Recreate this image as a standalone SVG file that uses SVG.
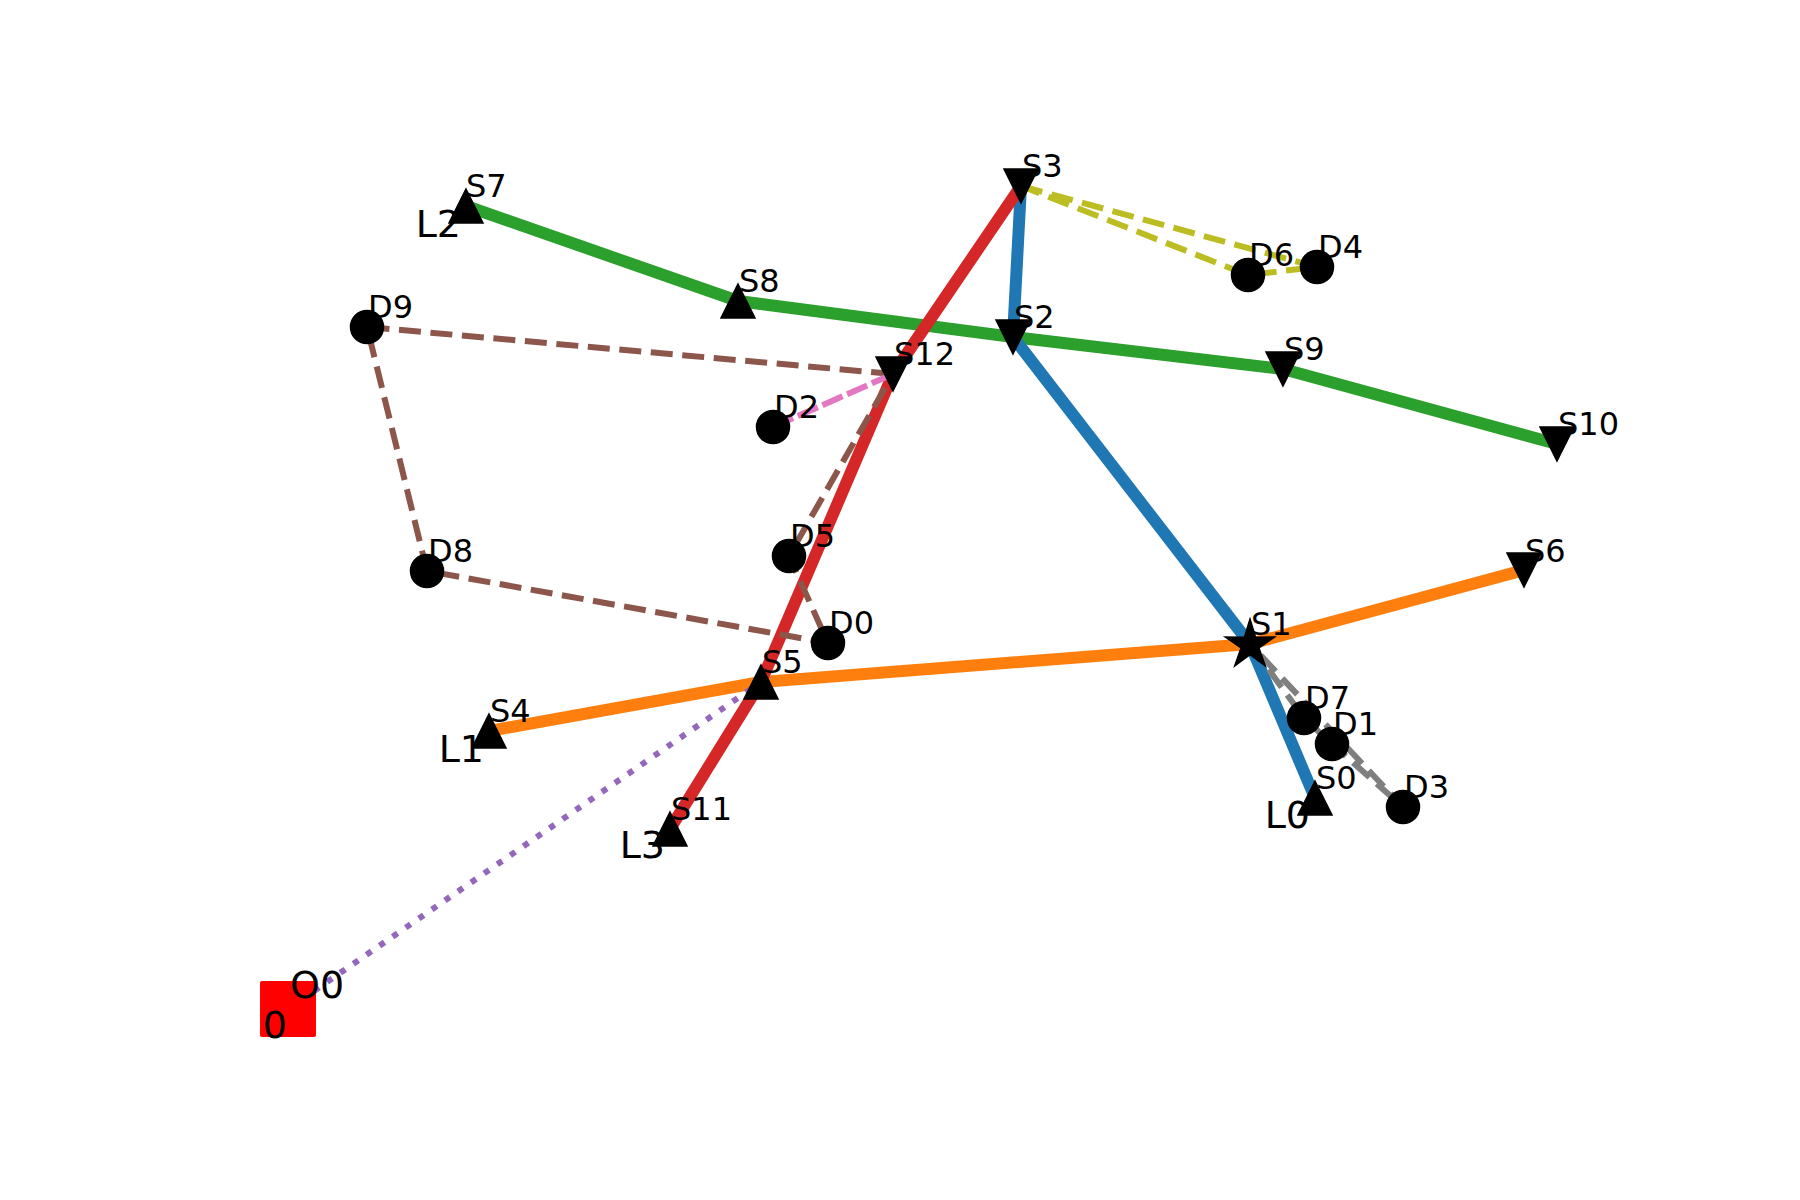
<svg xmlns="http://www.w3.org/2000/svg" xmlns:xlink="http://www.w3.org/1999/xlink" width="1800" height="1200" viewBox="0 0 1800 1200">
<style>
.ln{fill:none;stroke-linejoin:round}
.thick{stroke-width:12;stroke-linecap:square}
.dash{stroke-width:6;stroke-dasharray:22 9.6;stroke-linecap:butt}
.lbl{font-family:"DejaVu Sans",sans-serif;font-size:32px;fill:#000}
.big{font-family:"DejaVu Sans",sans-serif;font-size:38px;fill:#000}
.mk{fill:#000;stroke:#000;stroke-width:1.5;stroke-linejoin:miter}
</style>
<defs>
<path id="tu" d="M0,-17 L17,17 L-17,17 Z"/>
<path id="td" d="M0,17 L17,-17 L-17,-17 Z"/>
<circle id="dc" r="16.5"/>
</defs>
<rect width="1800" height="1200" fill="#fff"/>
<g id="connectors">
<polyline class="ln thick" stroke="#2ca02c" points="466,206 738,301 1013,337 1283,369 1557,444"/>
<polyline class="ln thick" stroke="#ff7f0e" points="489,731 761,682 1250,644 1524,570"/>
<polyline class="ln thick" stroke="#1f77b4" points="1021,186 1013,337 1250,644 1315,798"/>
<polyline class="ln thick" stroke="#d62728" points="670,829 761,682 893,374 1021,186"/>
<polyline class="ln dash" stroke="#8c564b" points="893,374 367,327 427,571 828,643 789,556 893,374"/>
<polyline class="ln dash" stroke="#bcbd22" points="1021,186 1317,267 1248,275 1021,186"/>
<polyline class="ln dash" stroke="#7f7f7f" points="1250,644 1304,718 1332,744 1403,807 1250,644"/>
<line class="ln" stroke="#e377c2" stroke-width="6" stroke-dasharray="22 5" x1="773" y1="427" x2="893" y2="374"/>
<line class="ln" stroke="#9467bd" stroke-width="6" stroke-dasharray="6 9.9" x1="288" y1="1009" x2="761" y2="682"/>
</g>
<g id="O0"><rect x="260" y="981" width="56" height="56" rx="2" fill="#ff0000"/><text class="big" x="290" y="998">O0</text><text class="big" x="287" y="1038" text-anchor="end">0</text></g>
<g id="S0"><use href="#tu" class="mk" x="1315" y="798"/><text class="lbl" x="1316" y="789">S0</text><text class="big" x="1310" y="828" text-anchor="end">L0</text></g>
<g id="S1"><path class="mk" transform="translate(1250,645)" d="M0,-26 L5.6,-7.7 L24.7,-8 L9,2.9 L15.3,21 L0,9.6 L-15.3,21 L-9,2.9 L-24.7,-8 L-5.6,-7.7 Z"/><text class="lbl" x="1251" y="635">S1</text></g>
<g id="S2"><use href="#td" class="mk" x="1013" y="337"/><text class="lbl" x="1014" y="328">S2</text></g>
<g id="S3"><use href="#td" class="mk" x="1021" y="186"/><text class="lbl" x="1022" y="177">S3</text></g>
<g id="S4"><use href="#tu" class="mk" x="489" y="731"/><text class="lbl" x="490" y="722">S4</text><text class="big" x="484" y="762" text-anchor="end">L1</text></g>
<g id="S5"><use href="#tu" class="mk" x="761" y="682"/><text class="lbl" x="762" y="673">S5</text></g>
<g id="S6"><use href="#td" class="mk" x="1524" y="570"/><text class="lbl" x="1525" y="562">S6</text></g>
<g id="S7"><use href="#tu" class="mk" x="466" y="206"/><text class="lbl" x="466" y="197">S7</text><text class="big" x="461" y="237" text-anchor="end">L2</text></g>
<g id="S8"><use href="#tu" class="mk" x="738" y="301"/><text class="lbl" x="739" y="292">S8</text></g>
<g id="S9"><use href="#td" class="mk" x="1283" y="369"/><text class="lbl" x="1284" y="360">S9</text></g>
<g id="S10"><use href="#td" class="mk" x="1557" y="444"/><text class="lbl" x="1558" y="435">S10</text></g>
<g id="S11"><use href="#tu" class="mk" x="670" y="829"/><text class="lbl" x="671" y="820">S11</text><text class="big" x="665" y="858" text-anchor="end">L3</text></g>
<g id="S12"><use href="#td" class="mk" x="893" y="374"/><text class="lbl" x="894" y="365">S12</text></g>
<g id="D0"><use href="#dc" class="mk" x="828" y="643"/><text class="lbl" x="829" y="634">D0</text></g>
<g id="D1"><use href="#dc" class="mk" x="1332" y="744"/><text class="lbl" x="1333" y="735">D1</text></g>
<g id="D2"><use href="#dc" class="mk" x="773" y="427"/><text class="lbl" x="774" y="418">D2</text></g>
<g id="D3"><use href="#dc" class="mk" x="1403" y="807"/><text class="lbl" x="1404" y="798">D3</text></g>
<g id="D4"><use href="#dc" class="mk" x="1317" y="267"/><text class="lbl" x="1318" y="258">D4</text></g>
<g id="D5"><use href="#dc" class="mk" x="789" y="556"/><text class="lbl" x="790" y="547">D5</text></g>
<g id="D6"><use href="#dc" class="mk" x="1248" y="275"/><text class="lbl" x="1249" y="266">D6</text></g>
<g id="D7"><use href="#dc" class="mk" x="1304" y="718"/><text class="lbl" x="1305" y="709">D7</text></g>
<g id="D8"><use href="#dc" class="mk" x="427" y="571"/><text class="lbl" x="428" y="562">D8</text></g>
<g id="D9"><use href="#dc" class="mk" x="367" y="327"/><text class="lbl" x="368" y="318">D9</text></g>
</svg>
